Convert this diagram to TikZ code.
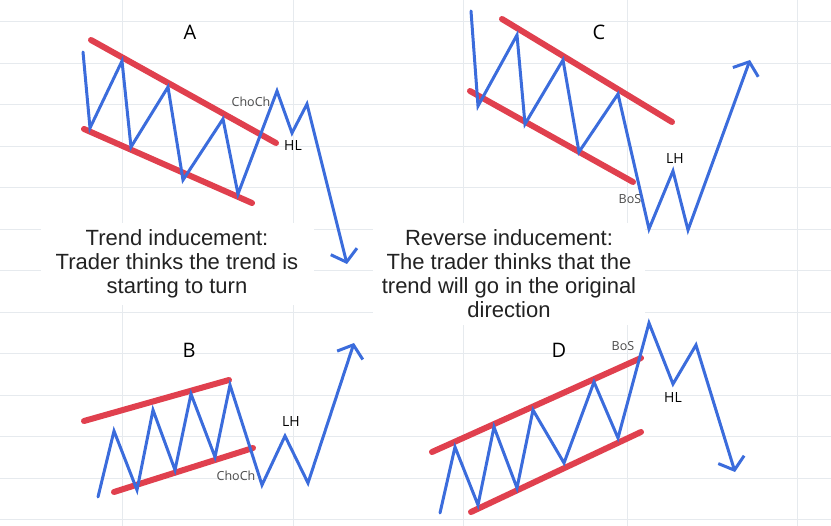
\documentclass[tikz,border=0pt]{standalone}
\usepackage{fontspec}
\setmainfont{Liberation Sans}
\newfontfamily\labelfont{Open Sans}
\usetikzlibrary{arrows.meta}
\definecolor{trendblue}{HTML}{3B6CDC}
\definecolor{channelred}{HTML}{E0404E}
\definecolor{gridgray}{HTML}{E6EAEE}
\definecolor{taggray}{HTML}{4A4A4A}
\definecolor{inktext}{HTML}{222222}

\begin{document}
\begin{tikzpicture}[
    x=1pt, y=-1pt,
    gridline/.style={gridgray, line width=1pt},
    price/.style={trendblue, line width=3pt, line cap=round},
    pricearrow/.style={price, -{Straight Barb[length=11pt, width=27pt]}},
    channel/.style={channelred, line width=6pt, line cap=round},
    panel/.style={font=\labelfont\fontsize{20}{24}\selectfont},
    level/.style={font=\labelfont\fontsize{14}{16}\selectfont},
    tag/.style={font=\labelfont\fontsize{12.5}{14}\selectfont, text=taggray},
    caption/.style={fill=white, align=center, inner sep=0pt, text=inktext, font=\fontsize{22}{24}\selectfont},
]
\useasboundingbox (0,0) rectangle (831,526);

% grid
\foreach \gx in {122,293,463,627,797}
    \draw[gridline] (\gx,0) -- (\gx,526);
\foreach \gy in {0,...,12}
    \draw[gridline] (0,{22+41.5*\gy}) -- (831,{22+41.5*\gy});

% captions
\node[caption, minimum width=273pt, minimum height=82pt] (trendtext) at (177,264)
    {Trend inducement:\\Trader thinks the trend is\\starting to turn};
\node[caption, minimum width=272pt, minimum height=102pt] (reversetext) at (509,274)
    {Reverse inducement:\\The trader thinks that the\\trend will go in the original\\direction};

% A
\draw[channel] (91,40) -- (276,143);
\draw[channel] (84,129) -- (252,203);
\draw[pricearrow] (83,52) -- (90,128) -- (122,61) -- (131,147) -- (168,87) -- (183,180)
    -- (223,119) -- (238,194) -- (277,91) -- (292,133) -- (307,104) -- (347,264);
\node[panel] (labA) at (190,32) {A};
\node[tag] (chochA) at (251,102) {ChoCh};
\node[level] (hlA) at (293,146) {HL};

% C
\draw[channel] (502,19) -- (672,122);
\draw[channel] (470,91) -- (633,182);
\draw[pricearrow] (471,11) -- (478,106) -- (517,35) -- (525,124) -- (563,60) -- (579,152)
    -- (618,94) -- (649,229) -- (673,171) -- (688,230) -- (750,60);
\node[panel] (labC) at (599,32) {C};
\node[tag] (bosC) at (630,199) {BoS};
\node[level] (lhC) at (675,159) {LH};

% B
\draw[channel] (84,421) -- (229,380);
\draw[channel] (114,492) -- (253,448);
\draw[pricearrow] (98,497) -- (114,431) -- (137,490) -- (153,410) -- (175,470) -- (191,394)
    -- (215,457) -- (230,385) -- (262,485) -- (285,436) -- (308,483) -- (354,343);
\node[panel] (labB) at (189,350) {B};
\node[tag] (chochB) at (236,476) {ChoCh};
\node[level] (lhB) at (291,422) {LH};

% D
\draw[channel] (432,452) -- (641,358);
\draw[channel] (471,512) -- (641,432);
\draw[pricearrow] (440,513) -- (455,447) -- (478,505) -- (494,427) -- (517,488) -- (533,410)
    -- (564,463) -- (594,382) -- (618,438) -- (649,323) -- (673,384) -- (696,345) -- (735,472);
\node[panel] (labD) at (559,350) {D};
\node[tag] (bosD) at (623,346) {BoS};
\node[level] (hlD) at (673,398) {HL};

\end{tikzpicture}
\end{document}
